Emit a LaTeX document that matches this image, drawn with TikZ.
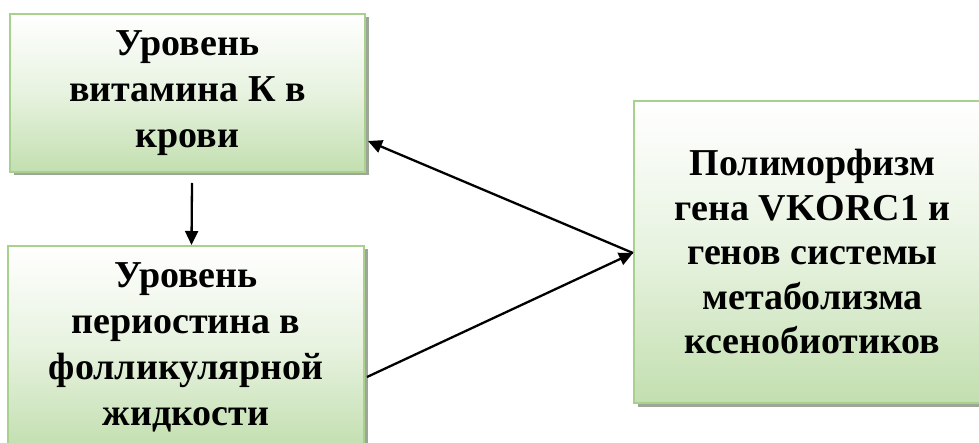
\documentclass[tikz,border=0pt]{standalone}
\usepackage{fontspec}
\setmainfont{Liberation Serif}
\usetikzlibrary{shadows,arrows.meta}
\definecolor{boxborder}{HTML}{A9D18E}
\definecolor{boxbottom}{HTML}{C3DFB0}
\definecolor{shadowgray}{HTML}{9EA697}
\tikzset{
  greenbox/.style={draw=boxborder, line width=2pt, rectangle, anchor=north west,
    top color=white, bottom color=boxbottom, middle color=boxbottom!40,
    drop shadow={shadow xshift=3.5pt, shadow yshift=-3.5pt, fill=shadowgray, opacity=1},
    align=center, inner sep=0pt,
    font=\fontsize{38}{46}\selectfont\bfseries},
  arr/.style={line width=2.3pt, -{Triangle[length=14pt,width=13pt]}}
}
\begin{document}
\begin{tikzpicture}[x=1pt,y=-1pt]
\useasboundingbox (0,0) rectangle (979,443);
\node[greenbox, minimum width=355pt, minimum height=158pt] (b1) at (9,13)
  {Уровень\\витамина К в\\крови};
\node[greenbox, minimum width=356pt, minimum height=202pt] (b2) at (7,245)
  {Уровень\\периостина в\\фолликулярной\\жидкости};
\node[greenbox, minimum width=357pt, minimum height=302pt, font=\fontsize{38}{44.5}\selectfont\bfseries] (b3) at (633,100)
  {Полиморфизм\\гена VKORC1 и\\генов системы\\метаболизма\\ксенобиотиков};
\draw[arr] ([xshift=4.5pt,yshift=-10pt]b1.south) -- ([xshift=5.5pt]b2.north);
\draw[arr] ([yshift=-1pt]b3.west) -- ([xshift=2pt,yshift=-48pt]b1.east);
\draw[arr] ([xshift=2pt,yshift=-30pt]b2.east) -- ([yshift=-1pt]b3.west);
\end{tikzpicture}
\end{document}
